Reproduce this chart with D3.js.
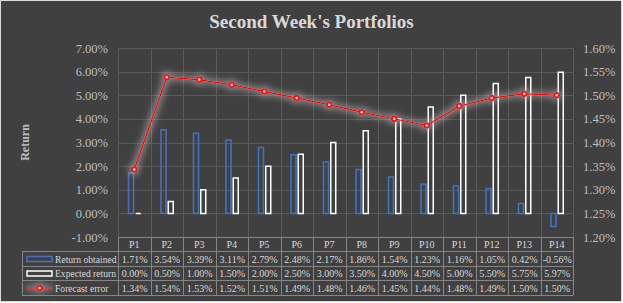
<!DOCTYPE html>
<html>
<head>
<meta charset="utf-8">
<script src="https://cdn.jsdelivr.net/npm/d3@7"></script>
<style>
  body { margin: 0; background: #fff; }
</style>
</head>
<body>
<div id="chart"></div>
<script>
// data
const categories = ["P1", "P2", "P3", "P4", "P5", "P6", "P7", "P8", "P9", "P10", "P11", "P12", "P13", "P14"];
const returnObtained = [0.0171, 0.0354, 0.0339, 0.0311, 0.0279, 0.0248, 0.0217, 0.0186, 0.0154, 0.0123, 0.0116, 0.0105, 0.0042, -0.0056];
const expectedReturn = [0.0000, 0.0050, 0.0100, 0.0150, 0.0200, 0.0250, 0.0300, 0.0350, 0.0400, 0.0450, 0.0500, 0.0550, 0.0575, 0.0597];
const forecastError = [0.01343, 0.01538, 0.01533, 0.01522, 0.01508, 0.01494, 0.01480, 0.01464, 0.01450, 0.01436, 0.01477, 0.01494, 0.01503, 0.01500];
const leftTicks = [-0.01, 0, 0.01, 0.02, 0.03, 0.04, 0.05, 0.06, 0.07];
const rightTicks = [0.012, 0.0125, 0.013, 0.0135, 0.014, 0.0145, 0.015, 0.0155, 0.016];
const seriesNames = ["Return obtained", "Expected return", "Forecast error"];

const width = 623, height = 303;
const margin = { top: 48, left: 118, right: 50, bottom: 66 };
const plotRight = width - margin.right;
const plotBottom = height - margin.bottom;
const serif = "'Liberation Serif', 'Times New Roman', Times, serif";

const fmt = d => d3.format(".2%")(d).replace("\u2212", "-");

const svg = d3.select("#chart").append("svg")
    .attr("width", width)
    .attr("height", height)
    .style("font-family", serif);

// glow for the forecast series
const filter = svg.append("defs").append("filter")
    .attr("id", "glow")
    .attr("x", "-50%").attr("y", "-50%")
    .attr("width", "200%").attr("height", "200%");
filter.append("feMorphology").attr("in", "SourceAlpha").attr("operator", "dilate").attr("radius", 1.5).attr("result", "d");
filter.append("feGaussianBlur").attr("in", "d").attr("stdDeviation", 3).attr("result", "b");
filter.append("feFlood").attr("flood-color", "#cfcfcf").attr("flood-opacity", 0.5);
filter.append("feComposite").attr("in2", "b").attr("operator", "in").attr("result", "g");
const merge = filter.append("feMerge");
merge.append("feMergeNode").attr("in", "g");
merge.append("feMergeNode").attr("in", "SourceGraphic");

// background / chart area border
svg.append("rect")
    .attr("x", 0.5).attr("y", 0.5)
    .attr("width", width - 2).attr("height", height - 2)
    .attr("fill", "#404040")
    .attr("stroke", "#d9d9d9");

// title
svg.append("text")
    .attr("x", 311.5).attr("y", 28)
    .attr("text-anchor", "middle")
    .style("font-family", serif)
    .attr("font-size", 19)
    .attr("font-weight", "bold")
    .attr("fill", "#d9d9d9")
    .text("Second Week's Portfolios");

// scales
const xScale = d3.scaleBand()
    .domain(categories)
    .range([margin.left, plotRight]);

const yScale = d3.scaleLinear()
    .domain([-0.01, 0.07])
    .range([plotBottom, margin.top]);

const y2Scale = d3.scaleLinear()
    .domain([0.012, 0.016])
    .range([plotBottom, margin.top]);

const bw = xScale.bandwidth();

// gridlines
const grid = svg.append("g").attr("stroke", "#5a5a5a").attr("stroke-width", 1);
grid.selectAll(".hgrid")
    .data(leftTicks)
    .enter()
    .append("line")
    .attr("x1", margin.left).attr("x2", plotRight)
    .attr("y1", d => Math.round(yScale(d)) + 0.5)
    .attr("y2", d => Math.round(yScale(d)) + 0.5);
grid.selectAll(".vgrid")
    .data(categories.concat(["end"]))
    .enter()
    .append("line")
    .attr("x1", (d, i) => Math.round(margin.left + i * bw) + 0.5)
    .attr("x2", (d, i) => Math.round(margin.left + i * bw) + 0.5)
    .attr("y1", margin.top).attr("y2", plotBottom);

// axes
const yAxis = svg.append("g")
    .attr("transform", `translate(${margin.left},0)`)
    .call(d3.axisLeft(yScale).tickValues(leftTicks).tickSize(0).tickPadding(10).tickFormat(fmt));
const y2Axis = svg.append("g")
    .attr("transform", `translate(${plotRight},0)`)
    .call(d3.axisRight(y2Scale).tickValues(rightTicks).tickSize(0).tickPadding(10).tickFormat(fmt));
[yAxis, y2Axis].forEach(a => {
    a.select(".domain").remove();
    a.attr("font-family", null);
    a.selectAll("text")
        .style("font-family", serif)
        .attr("font-size", 12.5)
        .attr("fill", "#bfbfbf");
});

// axis title
svg.append("text")
    .attr("transform", `translate(29,${(margin.top + plotBottom) / 2}) rotate(-90)`)
    .attr("text-anchor", "middle")
    .style("font-family", serif)
    .attr("font-size", 12)
    .attr("font-weight", "bold")
    .attr("fill", "#bfbfbf")
    .text("Return");

// bars drawn as closed paths so a zero value still shows as a line
function barPath(x, v) {
    const y0 = yScale(0), y1 = yScale(v);
    const w = 5;
    return `M${x},${y0}V${y1}H${x + w}V${y0}Z`;
}

svg.selectAll(".bar-ret")
    .data(returnObtained)
    .enter()
    .append("path")
    .attr("class", "bar-ret")
    .attr("d", (d, i) => barPath(xScale(categories[i]) + bw / 2 - 5.75, d))
    .attr("fill", "none")
    .attr("stroke", "#4472c4")
    .attr("stroke-width", 1.5);

svg.selectAll(".bar-exp")
    .data(expectedReturn)
    .enter()
    .append("path")
    .attr("class", "bar-exp")
    .attr("d", (d, i) => barPath(xScale(categories[i]) + bw / 2 + 1.5, d))
    .attr("fill", "none")
    .attr("stroke", "#ffffff")
    .attr("stroke-width", 1.5);

// forecast error line on the secondary axis
const lineG = svg.append("g").attr("filter", "url(#glow)");
lineG.append("path")
    .datum(forecastError)
    .attr("fill", "none")
    .attr("stroke", "#ff0000")
    .attr("stroke-width", 1.5)
    .attr("d", d3.line()
        .x((d, i) => xScale(categories[i]) + bw / 2)
        .y(d => y2Scale(d)));

function marker(g, cx, cy) {
    g.append("circle").attr("cx", cx).attr("cy", cy).attr("r", 3.3).attr("fill", "#e8141b");
    g.append("circle").attr("cx", cx).attr("cy", cy).attr("r", 1.3).attr("fill", "#ffd0d0");
}
forecastError.forEach((d, i) => marker(lineG, xScale(categories[i]) + bw / 2, y2Scale(d)));

// data table
const tableColor = "#858585";
const rowH = [plotBottom, 251, 266, 280, 295];
const tableLeft = 22;
const table = svg.append("g").attr("stroke", tableColor).attr("stroke-width", 1).attr("fill", "none");

// header row lines
table.append("line")
    .attr("x1", margin.left).attr("x2", plotRight)
    .attr("y1", rowH[0] + 0.5).attr("y2", rowH[0] + 0.5);
rowH.slice(1).forEach(y => {
    table.append("line")
        .attr("x1", tableLeft).attr("x2", plotRight)
        .attr("y1", y + 0.5).attr("y2", y + 0.5);
});
table.append("line")
    .attr("x1", tableLeft + 0.5).attr("x2", tableLeft + 0.5)
    .attr("y1", rowH[1]).attr("y2", rowH[4] + 0.5);
categories.concat(["end"]).forEach((c, i) => {
    const x = Math.round(margin.left + i * bw) + 0.5;
    table.append("line")
        .attr("x1", x).attr("x2", x)
        .attr("y1", rowH[0]).attr("y2", rowH[4] + 0.5);
});

const cellText = svg.append("g")
    .style("font-family", serif)
    .attr("font-size", 10)
    .attr("fill", "#d9d9d9")
    .attr("text-anchor", "middle");

cellText.selectAll(".hdr")
    .data(categories)
    .enter()
    .append("text")
    .attr("x", d => xScale(d) + bw / 2)
    .attr("y", (rowH[0] + rowH[1]) / 2 + 3.5)
    .text(d => d);

[returnObtained, expectedReturn, forecastError].forEach((series, r) => {
    cellText.selectAll(".row" + r)
        .data(series)
        .enter()
        .append("text")
        .attr("x", (d, i) => xScale(categories[i]) + bw / 2 + 0.5)
        .attr("y", (rowH[r + 1] + rowH[r + 2]) / 2 + 4)
        .text(d => fmt(d));
});

// legend keys inside the table
const keyX = 27, keyW = 25;
const ym = r => (rowH[r + 1] + rowH[r + 2]) / 2 + 0.5;
svg.append("rect")
    .attr("x", keyX).attr("y", ym(0) - 2.5).attr("width", keyW).attr("height", 5)
    .attr("fill", "none").attr("stroke", "#4472c4").attr("stroke-width", 1.5);
svg.append("rect")
    .attr("x", keyX).attr("y", ym(1) - 2.5).attr("width", keyW).attr("height", 5)
    .attr("fill", "none").attr("stroke", "#ffffff").attr("stroke-width", 1.5);
const legLine = svg.append("g").attr("filter", "url(#glow)");
legLine.append("line")
    .attr("x1", keyX).attr("x2", keyX + keyW)
    .attr("y1", ym(2)).attr("y2", ym(2))
    .attr("stroke", "#ff0000").attr("stroke-width", 1.5);
marker(legLine, keyX + keyW / 2, ym(2));

svg.selectAll(".legtext")
    .data(seriesNames)
    .enter()
    .append("text")
    .attr("x", 55)
    .attr("y", (d, i) => (rowH[i + 1] + rowH[i + 2]) / 2 + 4)
    .style("font-family", serif)
    .attr("font-size", 9.6)
    .attr("fill", "#d9d9d9")
    .text(d => d);
</script>
</body>
</html>
